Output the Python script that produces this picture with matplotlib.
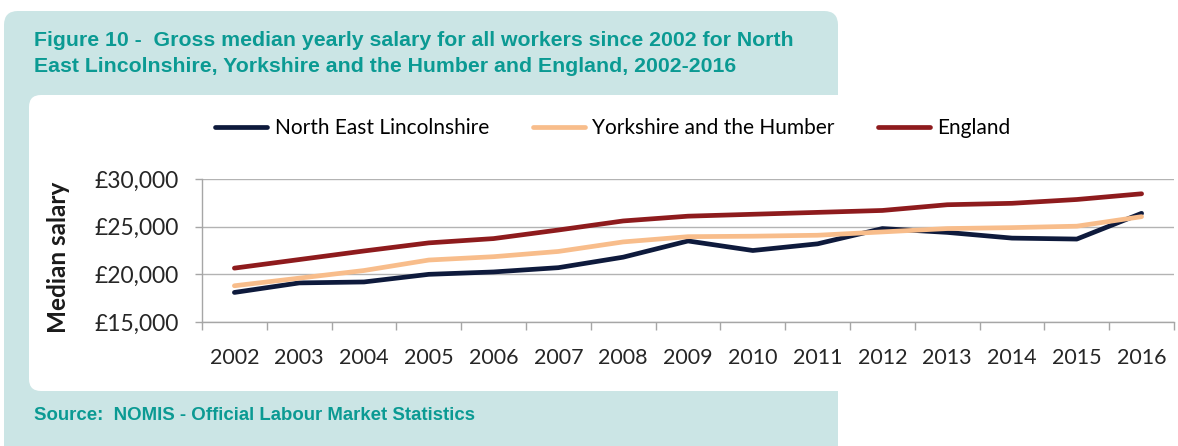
import matplotlib
matplotlib.use('Agg')
import matplotlib.pyplot as plt
from matplotlib.patches import FancyBboxPatch
import numpy as np

years = [str(y) for y in range(2002, 2017)]
ne_lincs = [18100, 19100, 19200, 20000, 20250, 20700, 21800, 23500, 22500,
            23200, 24800, 24400, 23800, 23700, 26400]
yorkshire = [18800, 19600, 20400, 21500, 21850, 22400, 23400, 23950, 24000,
             24100, 24450, 24800, 24900, 25050, 26050]
england = [20650, 21550, 22450, 23300, 23750, 24650, 25600, 26100, 26300,
           26500, 26700, 27300, 27450, 27850, 28450]
y_ticks = [15000, 20000, 25000, 30000]
y_labels = ['£15,000', '£20,000', '£25,000', '£30,000']

W, H = 1178, 446
teal_bg = '#cbe5e5'
teal_txt = '#0b9a93'
chart_font = ['Lato', 'DejaVu Sans']
title_font = ['Liberation Sans', 'DejaVu Sans']

fig = plt.figure(figsize=(W / 100, H / 100), dpi=100)
fig.patch.set_facecolor('white')

# fondo con paneles (coordenadas en pixeles)
bg = fig.add_axes([0, 0, 1, 1], zorder=0)
bg.set_xlim(0, W)
bg.set_ylim(H, 0)
bg.axis('off')
bg.add_patch(FancyBboxPatch((4, 11), 834, 460, boxstyle='round,pad=0,rounding_size=14',
                            facecolor=teal_bg, edgecolor='none'))
bg.add_patch(FancyBboxPatch((29, 95), 1200, 296, boxstyle='round,pad=0,rounding_size=12',
                            facecolor='white', edgecolor='none'))

bg.text(34, 41, 'Figure 10 -  Gross median yearly salary for all workers since 2002 for North',
        color=teal_txt, fontsize=15.3, fontweight='bold', family=title_font, va='center')
bg.text(34, 67, 'East Lincolnshire, Yorkshire and the Humber and England, 2002-2016',
        color=teal_txt, fontsize=15.3, fontweight='bold', family=title_font, va='center')
bg.text(34, 416, 'Source:  NOMIS - Official Labour Market Statistics',
        color=teal_txt, fontsize=13.4, fontweight='bold', family=title_font, va='center')

# grafica
x0, x1, ytop, ybot = 202, 1174, 179, 322
ax = fig.add_axes([x0 / W, 1 - ybot / H, (x1 - x0) / W, (ybot - ytop) / H], zorder=1)
ax.patch.set_alpha(0)

x = np.arange(len(years)) + 0.5
ax.plot(x, ne_lincs, color='#0e1a3c', linewidth=3.4, label='North East Lincolnshire',
        solid_capstyle='round', zorder=3)
ax.plot(x, yorkshire, color='#f8bd8b', linewidth=3.4, label='Yorkshire and the Humber',
        solid_capstyle='round', zorder=3)
ax.plot(x, england, color='#8e1b1d', linewidth=3.4, label='England',
        solid_capstyle='round', zorder=3)

ax.set_xlim(0, len(years))
ax.set_ylim(15000, 30000)
ax.set_yticks(y_ticks)
ax.set_yticklabels(y_labels, family=chart_font, fontsize=16.5, color='#262626')
ax.set_xticks(np.arange(len(years) + 1))
ax.set_xticklabels([])
ax.set_xticks(x, minor=True)
ax.set_xticklabels(years, minor=True, family=chart_font, fontsize=15.5, color='#262626')
ax.tick_params(axis='x', which='major', direction='out', length=6, color='#a6a6a6', width=1)
ax.tick_params(axis='x', which='minor', length=0, pad=19)
ax.tick_params(axis='y', direction='out', length=5, color='#a6a6a6', width=1, pad=12)

ax.grid(True, axis='y', color='#b3b3b3', linewidth=1)
for s in ['top', 'right']:
    ax.spines[s].set_visible(False)
for s in ['left', 'bottom']:
    ax.spines[s].set_color('#a6a6a6')
    ax.spines[s].set_linewidth(1)

ax.set_ylabel('Median salary', family=chart_font, fontsize=17.5, fontweight='bold', color='#1a1a1a')
ax.yaxis.set_label_coords(-0.136, 0.455)

fig.legend(loc='center', bbox_to_anchor=(613 / W, 1 - 128 / H), ncol=3, frameon=False,
           prop={'family': chart_font, 'size': 15}, handlelength=2.5, handletextpad=0.35,
           columnspacing=2.1)

plt.savefig('out.png', dpi=100)
plt.close()
